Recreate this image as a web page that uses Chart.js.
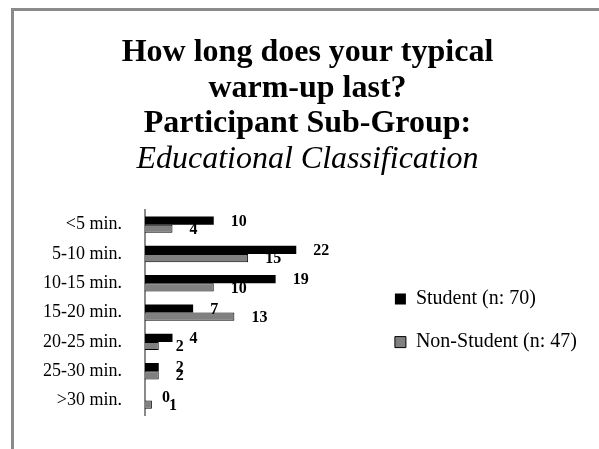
<!DOCTYPE html>
<html>
<head>
<meta charset="utf-8">
<script src="https://cdn.jsdelivr.net/npm/chart.js@4/dist/chart.umd.min.js"></script>
<style>
    html, body { margin: 0; padding: 0; background: #fff; overflow: hidden; width: 599px; height: 449px; }
    #frame {
        position: absolute; left: 11px; top: 8px; width: 700px; height: 600px;
        border-left: 3px solid #8a8a8a; border-top: 3px solid #8a8a8a;
    }
    #chart { position: absolute; left: 14px; top: 11px; }
</style>
</head>
<body>
<div id="frame"></div>
<canvas id="chart" width="587" height="438"></canvas>
<script>
    const categories = ['<5 min.', '5-10 min.', '10-15 min.', '15-20 min.', '20-25 min.', '25-30 min.', '>30 min.'];
    const studentValues = [10, 22, 19, 7, 4, 2, 0];
    const nonStudentValues = [4, 15, 10, 13, 2, 2, 1];
    const seriesNames = ['Student (n: 70)', 'Non-Student (n: 47)'];
    const titleLines = ['How long does your typical', 'warm-up last?', 'Participant Sub-Group:'];
    const subtitleText = 'Educational Classification';

    const serif = "'Liberation Serif', 'Times New Roman', serif";

    // value labels to the right of each bar
    const barValues = {
        id: 'barValues',
        afterDatasetsDraw(chart) {
            const ctx = chart.ctx;
            ctx.save();
            ctx.font = 'bold 16px ' + serif;
            ctx.fillStyle = '#000';
            ctx.textAlign = 'left';
            ctx.textBaseline = 'middle';
            chart.data.datasets.forEach((ds, i) => {
                chart.getDatasetMeta(i).data.forEach((bar, j) => {
                    ctx.fillText(String(ds.data[j]), bar.x + 17, bar.y + 1);
                });
            });
            ctx.restore();
        }
    };

    new Chart(document.getElementById('chart'), {
        type: 'bar',
        data: {
            labels: categories,
            datasets: [
                {
                    label: seriesNames[0],
                    data: studentValues,
                    backgroundColor: '#000000',
                    borderColor: '#000000',
                    borderWidth: 0
                },
                {
                    label: seriesNames[1],
                    data: nonStudentValues,
                    backgroundColor: '#808080',
                    borderColor: '#000000',
                    borderWidth: 1
                }
            ]
        },
        options: {
            indexAxis: 'y',
            responsive: false,
            animation: false,
            devicePixelRatio: 1,
            categoryPercentage: 0.56,
            barPercentage: 1,
            layout: { padding: { left: 14, right: 14, top: 0, bottom: 26 } },
            scales: {
                x: { display: false, min: 0, max: 33 },
                y: {
                    grid: { display: false, drawTicks: false },
                    border: { display: true, color: '#8a8a8a', width: 2 },
                    ticks: { color: '#000', padding: 23, font: { family: serif, size: 18 } },
                    afterFit(scale) {
                        scale.width = 117;
                    }
                }
            },
            plugins: {
                title: {
                    display: true,
                    text: titleLines,
                    color: '#000',
                    font: { family: serif, size: 32, weight: 'bold', lineHeight: 35.5 / 32 },
                    padding: { top: 24.25, bottom: 0 }
                },
                subtitle: {
                    display: true,
                    text: subtitleText,
                    color: '#000',
                    font: { family: serif, size: 32, style: 'italic', weight: 'normal', lineHeight: 35.5 / 32 },
                    padding: { top: 0, bottom: 32.75 }
                },
                legend: {
                    position: 'right',
                    fullSize: false,
                    maxWidth: 250,
                    // blank title only to push the items down a little
                    title: { display: true, text: ' ', padding: 0, font: { size: 16, lineHeight: 1 } },
                    labels: {
                        color: '#000',
                        boxWidth: 11,
                        boxHeight: 11,
                        padding: 23,
                        font: { family: serif, size: 20 }
                    }
                },
                tooltip: { enabled: false }
            }
        },
        plugins: [barValues]
    });
</script>
</body>
</html>
